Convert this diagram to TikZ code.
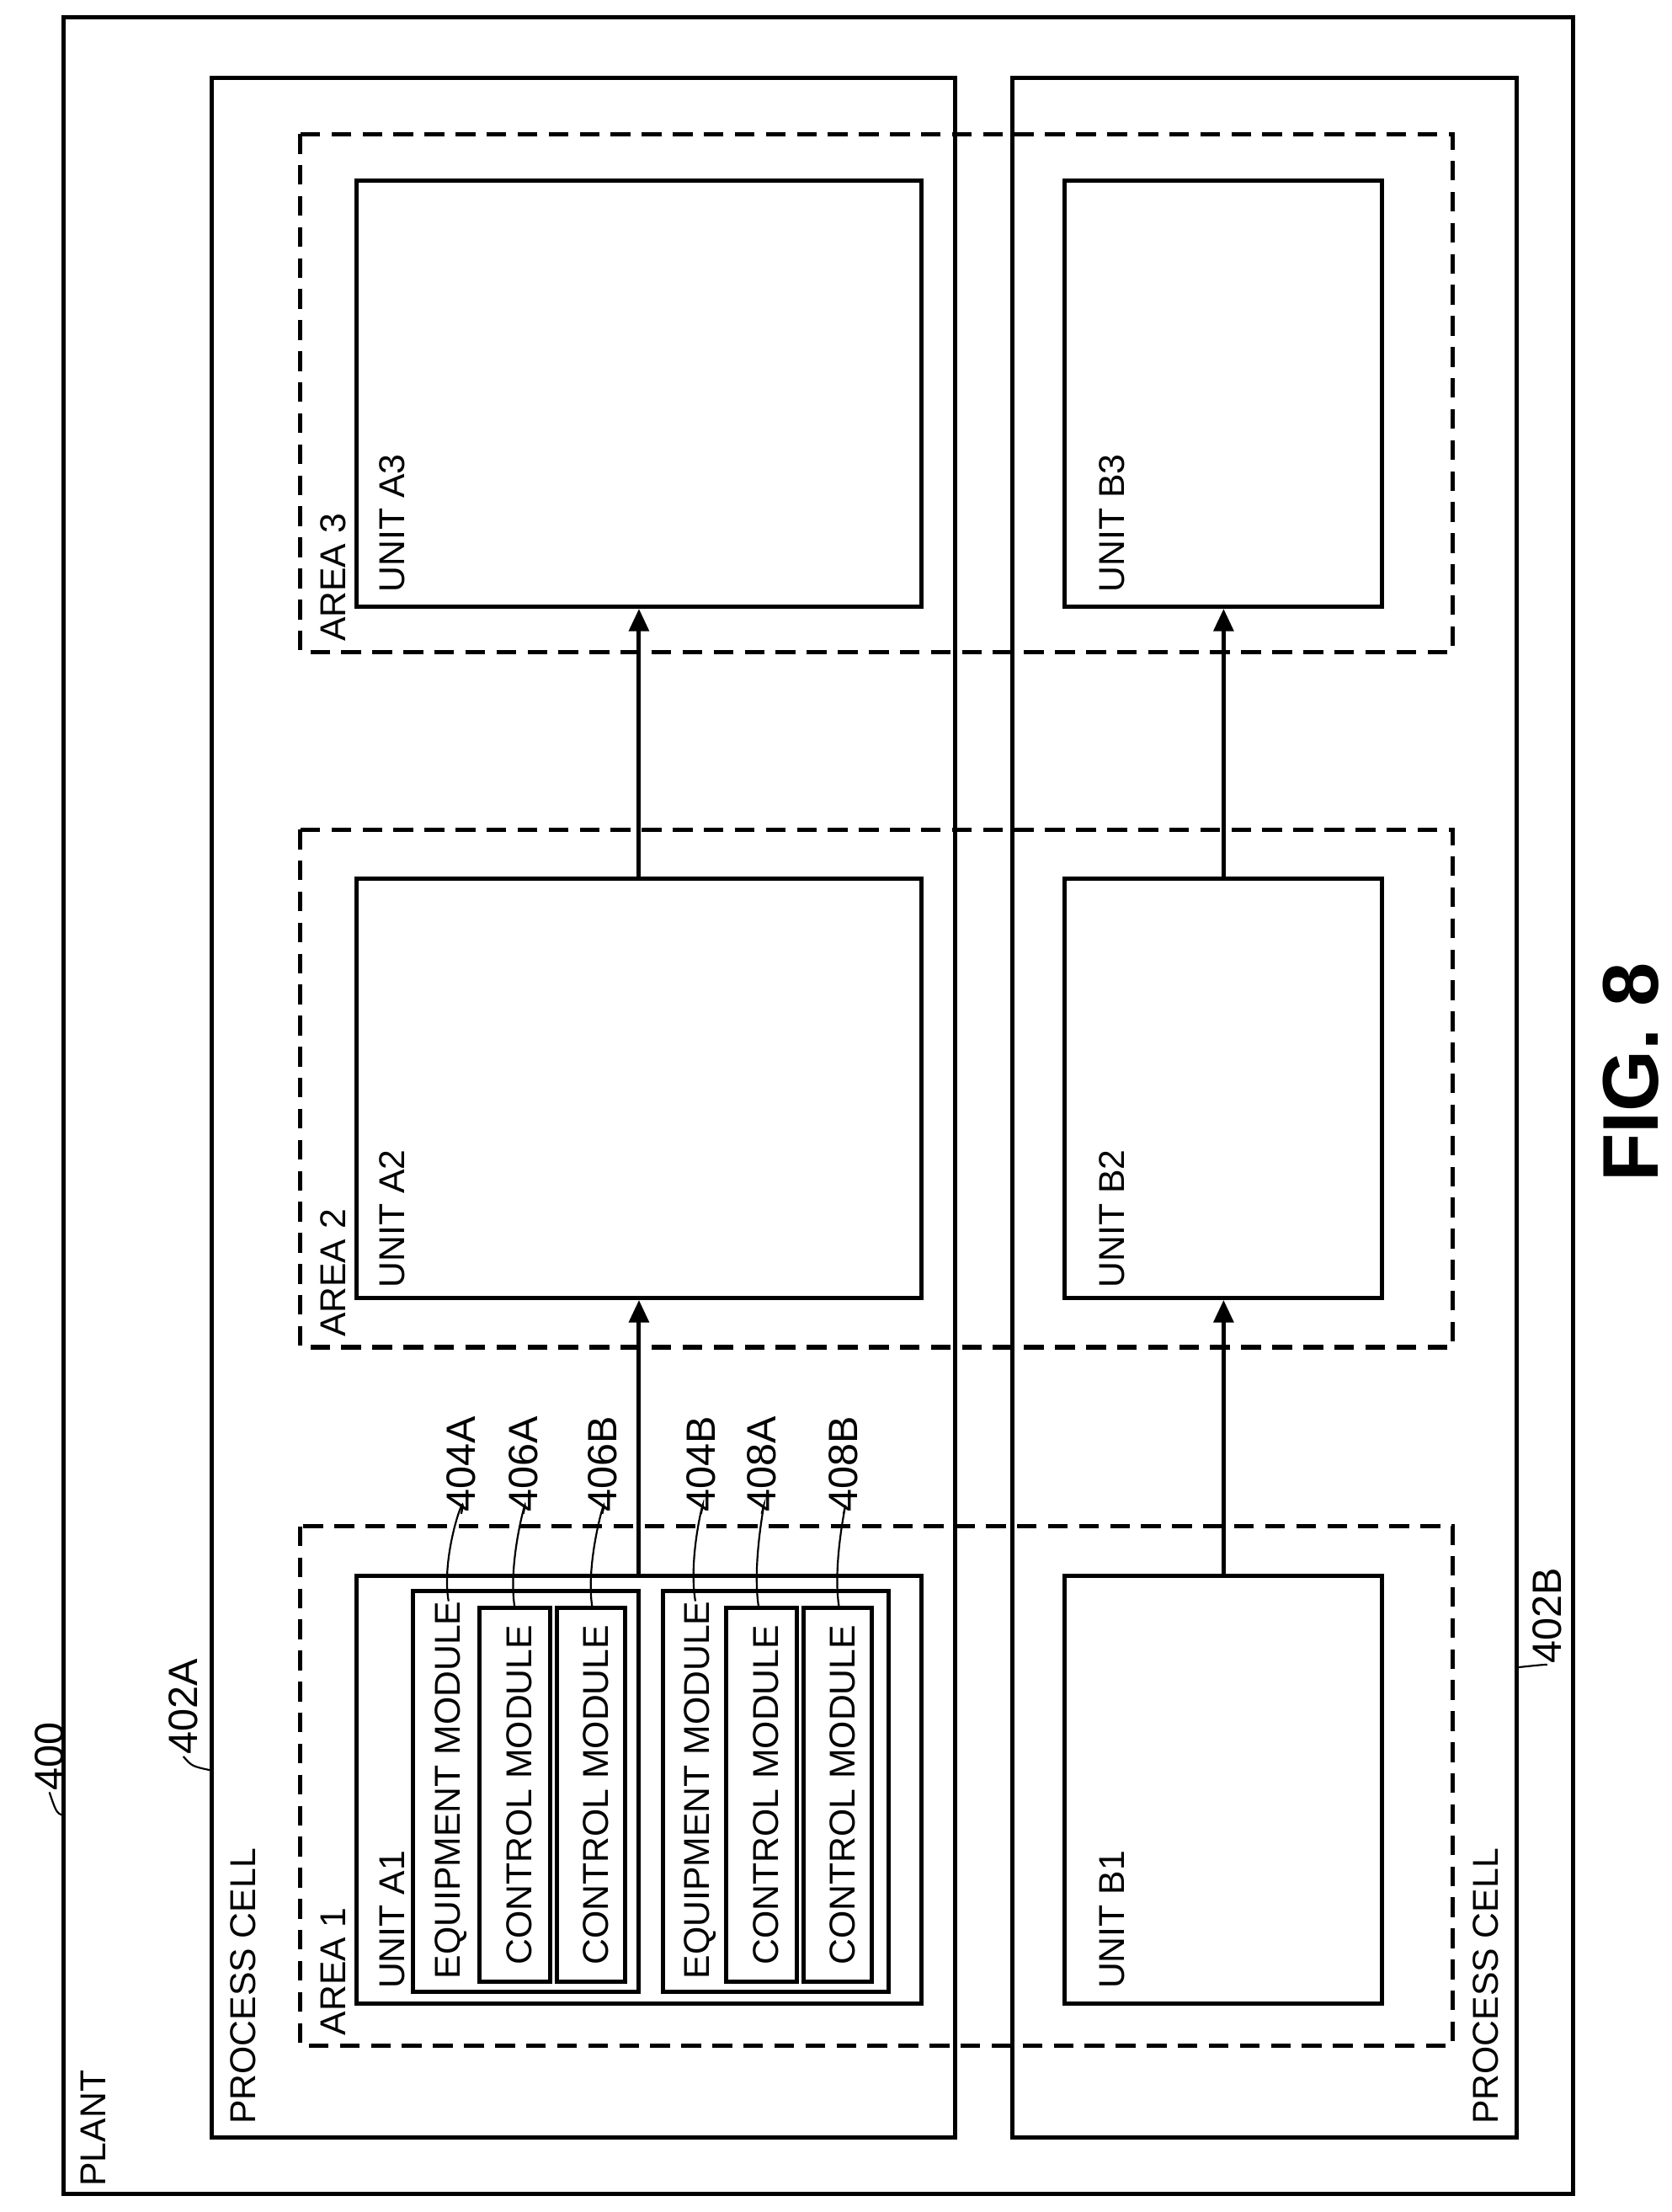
\documentclass[tikz,border=0pt]{standalone}
\usepackage{fontspec}
\setmainfont{Liberation Sans}
\usetikzlibrary{arrows.meta}
\begin{document}
\begin{tikzpicture}[x=1pt,y=-1pt,
  box/.style={draw,line width=3pt},
  dbox/.style={draw,line width=3pt,dash pattern=on 14pt off 8pt},
  lbl/.style={rotate=90,anchor=base west,inner sep=0pt,font=\fontsize{25.5}{30}\selectfont},
  num/.style={rotate=90,inner sep=1pt,font=\fontsize{29}{32}\selectfont},
  lead/.style={line width=1.3pt},
  arr/.style={line width=3pt,-{Triangle[length=16pt,width=14pt]}}]
\useasboundingbox (0,0) rectangle (1185,1568);
% plant and cells
\draw[box] (45,12) rectangle (1115,1555);
\draw[box] (150,55) rectangle (677,1515);
\draw[box] (718,55) rectangle (1075,1515);
% areas
\draw[dbox] (213,1082) rectangle (1030,1450);
\draw[dbox] (213,588) rectangle (1030,955);
\draw[dbox] (213,95) rectangle (1030,462);
% units
\node[box,minimum width=400pt,minimum height=303pt,inner sep=0pt] (a1) at (453,1268.5) {};
\node[box,minimum width=400pt,minimum height=297pt,inner sep=0pt] (a2) at (453,771.5) {};
\node[box,minimum width=400pt,minimum height=302pt,inner sep=0pt] (a3) at (453,279) {};
\node[box,minimum width=225pt,minimum height=303pt,inner sep=0pt] (b1) at (867.5,1268.5) {};
\node[box,minimum width=225pt,minimum height=297pt,inner sep=0pt] (b2) at (867.5,771.5) {};
\node[box,minimum width=225pt,minimum height=302pt,inner sep=0pt] (b3) at (867.5,279) {};
% modules
\draw[box] (293,1128) rectangle (453,1412);
\draw[box] (340,1140) rectangle (390,1405);
\draw[box] (395,1140) rectangle (443,1405);
\draw[box] (470,1128) rectangle (630,1412);
\draw[box] (515,1140) rectangle (565,1405);
\draw[box] (570,1140) rectangle (618,1405);
% arrows
\draw[arr] (a1.north) -- (a2.south);
\draw[arr] (a2.north) -- (a3.south);
\draw[arr] (b1.north) -- (b2.south);
\draw[arr] (b2.north) -- (b3.south);
% texts
\node[lbl] (tplant) at (75,1550) {PLANT};
\node[lbl] (tpca) at (181,1506) {PROCESS CELL};
\node[lbl] (tpcb) at (1062,1506) {PROCESS CELL};
\node[lbl] (tar1) at (245,1443) {AREA 1};
\node[lbl] (tar2) at (245,948) {AREA 2};
\node[lbl] (tar3) at (245,455) {AREA 3};
\node[lbl] (tua1) at (287,1410) {UNIT A1};
\node[lbl] (tua2) at (287,913) {UNIT A2};
\node[lbl] (tua3) at (287,420) {UNIT A3};
\node[lbl] (tub1) at (797,1410) {UNIT B1};
\node[lbl] (tub2) at (797,913) {UNIT B2};
\node[lbl] (tub3) at (797,420) {UNIT B3};
\node[lbl] (te1) at (326,1403) {EQUIPMENT MODULE};
\node[lbl] (tc1) at (377,1393) {CONTROL MODULE};
\node[lbl] (tc2) at (431,1393) {CONTROL MODULE};
\node[lbl] (te2) at (503,1403) {EQUIPMENT MODULE};
\node[lbl] (tc3) at (552,1393) {CONTROL MODULE};
\node[lbl] (tc4) at (606,1393) {CONTROL MODULE};
% numbers
\node[num] (n400) at (35,1245) {400};
\node[num] (n402a) at (130,1210) {402A};
\node[num] (n402b) at (1097,1145) {402B};
\node[num] (n404a) at (327,1038) {404A};
\node[num] (n406a) at (371,1038) {406A};
\node[num] (n406b) at (427,1038) {406B};
\node[num] (n404b) at (497,1038) {404B};
\node[num] (n408a) at (540,1038) {408A};
\node[num] (n408b) at (598,1038) {408B};
\draw[lead] (n400.west) .. controls (40,1285) .. (45,1287);
\draw[lead] (n402a.west) .. controls (136,1252) .. (150,1255);
\draw[lead] (n402b.west) .. controls (1094,1180) .. (1075,1182);
\foreach \n/\x/\y in {n404a/318/1135,n406a/365/1140,n406b/420/1140,n404b/493/1135,n408a/538/1140,n408b/595/1140}
  \draw[lead] (\n.west) .. controls ([xshift=6pt,yshift=25pt]\n.west) and (\x-6,\y-35) .. (\x,\y);
\node[rotate=90,font=\bfseries\fontsize{56}{62}\selectfont] (fig) at (1156,760) {FIG. 8};
\end{tikzpicture}
\end{document}
